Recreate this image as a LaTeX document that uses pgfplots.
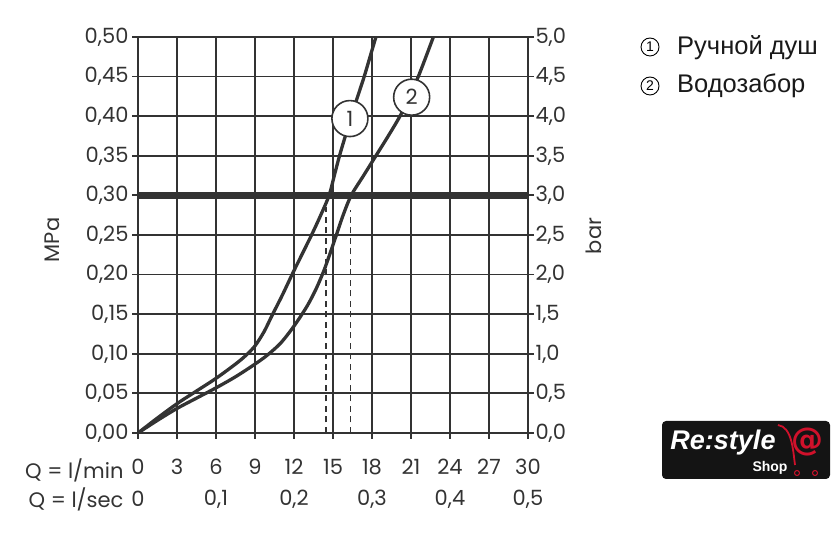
\documentclass[border=0pt]{standalone}
\usepackage{pgfplots}
\pgfplotsset{compat=1.18}
\usepackage{pgfplotstable}
\usepackage{fontspec}
\setmainfont{Poppins}
\newfontfamily\arial{Liberation Sans}
\newfontfamily\dejavu{DejaVu Sans}
\definecolor{ink}{HTML}{333333}
\definecolor{logored}{HTML}{D0112B}

\pgfplotstableread{
x y
0 0
1.5 0.019
3 0.037
4.5 0.053
6 0.069
7.5 0.087
8.3 0.098
9 0.110
9.7 0.128
10.3 0.148
11.1 0.174
11.85 0.200
12.6 0.225
13.35 0.250
14.0 0.273
14.7 0.300
15.1 0.325
15.5 0.350
15.95 0.375
16.4 0.400
16.9 0.425
17.4 0.450
17.85 0.475
18.3 0.500
}\curveA

\pgfplotstableread{
x y
0 0
1.5 0.016
3 0.031
4.5 0.044
6 0.057
7.5 0.071
9 0.087
10 0.099
11 0.114
12 0.135
13 0.160
13.7 0.182
14.3 0.205
14.8 0.228
15.3 0.252
15.8 0.276
16.4 0.300
17.35 0.325
18.3 0.350
19.25 0.375
20.15 0.400
20.9 0.425
21.56 0.450
22.15 0.475
22.72 0.500
}\curveB

\begin{document}
\begin{tikzpicture}[x=1pt,y=1pt]
\path (0,0) rectangle (840,535);
\begin{axis}[
  at={(138pt,102pt)}, anchor=south west, scale only axis,
  width=390pt, height=396pt,
  xmin=0, xmax=30, ymin=0, ymax=0.5,
  xtick={0,3,6,9,12,15,18,21,24,27,30},
  ytick={0,0.05,0.1,0.15,0.2,0.25,0.3,0.35,0.4,0.45,0.5},
  grid=major, grid style={ink, line width=1.8pt},
  axis line style={ink, line width=2.2pt},
  tick style={ink, line width=1.8pt}, tick align=outside, major tick length=6pt,
  xtick pos=bottom, ytick pos=left,
  xticklabel style={font=\fontsize{21}{24}\selectfont, text=ink, anchor=center, yshift=-28pt,
    /pgf/number format/assume math mode=true},
  yticklabel style={font=\fontsize{21}{24}\selectfont, text=ink,
    /pgf/number format/.cd, fixed, fixed zerofill, precision=2, use comma, assume math mode=true},
  clip=true,
]
\addplot[ink, line width=7pt] coordinates {(0,0.3) (30,0.3)};
\addplot[ink, line width=1.4pt, dash pattern=on 6pt off 4.5pt] coordinates {(14.45,0) (14.45,0.285)};
\addplot[ink, line width=1.4pt, dash pattern=on 6pt off 4.5pt] coordinates {(16.35,0) (16.35,0.282)};
\addplot[ink, line width=3.3pt, smooth, tension=0.5] table {\curveA};
\addplot[ink, line width=3.3pt, smooth, tension=0.5] table {\curveB};
\node[circle, draw=ink, line width=1.6pt, fill=white, minimum size=36pt, inner sep=0pt,
  font=\fontsize{21}{24}\selectfont, text=ink] at (axis cs:16.3,0.397) {1};
\node[circle, draw=ink, line width=1.6pt, fill=white, minimum size=36pt, inner sep=0pt,
  font=\fontsize{21}{24}\selectfont, text=ink] at (axis cs:21.05,0.424) {2};
\end{axis}
\begin{axis}[
  at={(138pt,102pt)}, anchor=south west, scale only axis,
  width=390pt, height=396pt,
  xmin=0, xmax=30, ymin=0, ymax=5,
  axis x line=none, axis y line*=right,
  axis line style={ink, line width=2.2pt},
  ytick={0,0.5,1,1.5,2,2.5,3,3.5,4,4.5,5},
  tick style={ink, line width=1.8pt}, tick align=outside, major tick length=6pt,
  yticklabel style={font=\fontsize{21}{24}\selectfont, text=ink, xshift=-2pt,
    /pgf/number format/.cd, fixed, fixed zerofill, precision=1, use comma, assume math mode=true},
]
\end{axis}
% axis titles
\node[rotate=90, anchor=center, inner sep=0pt, font=\fontsize{21}{24}\selectfont, text=ink] at (52,295) {MPa};
\node[rotate=90, anchor=center, inner sep=0pt, font=\fontsize{21}{24}\selectfont, text=ink] at (594,299) {bar};
% bottom rows
\node[anchor=east, font=\fontsize{21}{24}\selectfont, text=ink] at (127,65) {Q = l/min};
\node[anchor=east, font=\fontsize{21}{24}\selectfont, text=ink] at (127,36) {Q = l/sec};
\foreach \xx/\lab in {138/0,216/{0,1},294/{0,2},372/{0,3},450/{0,4},528/{0,5}}
  \node[anchor=center, font=\fontsize{21}{24}\selectfont, text=ink] at (\xx,36) {\lab};
% legend
\node[circle, draw=black, line width=0.9pt, minimum size=18pt, inner sep=0pt, font=\arial\fontsize{14}{15}\selectfont] at (650,488) {1};
\node[circle, draw=black, line width=0.9pt, minimum size=18pt, inner sep=0pt, font=\arial\fontsize{14}{15}\selectfont] at (650,449) {2};
\node[anchor=base west, inner sep=0pt, font=\arial\fontsize{25.5}{27}\selectfont, text=black!90] at (677,480) {Ручной душ};
\node[anchor=base west, inner sep=0pt, font=\arial\fontsize{25.5}{27}\selectfont, text=black!90] at (677,442) {Водозабор};
% logo
\fill[black!92, rounded corners=4pt] (662,56) rectangle (830,114);
\node[anchor=center, inner sep=0pt, text=white, font=\arial\bfseries\itshape\fontsize{27}{29}\selectfont] at (723,92) {Re:style};
\node[anchor=center, inner sep=0pt, text=white, font=\arial\bfseries\fontsize{14}{16}\selectfont] at (770,67) {Shop};
\draw[logored, line width=1.8pt] (778,110) .. controls (792,108) and (793,85) .. (795,70);
\node[anchor=center, inner sep=0pt, text=logored, font=\dejavu\bfseries\fontsize{32}{34}\selectfont] at (807,93) {@};
\draw[logored, line width=1pt] (797,62) circle (2.5);
\draw[logored, line width=1pt] (815,62) circle (2.5);
\end{tikzpicture}
\end{document}
